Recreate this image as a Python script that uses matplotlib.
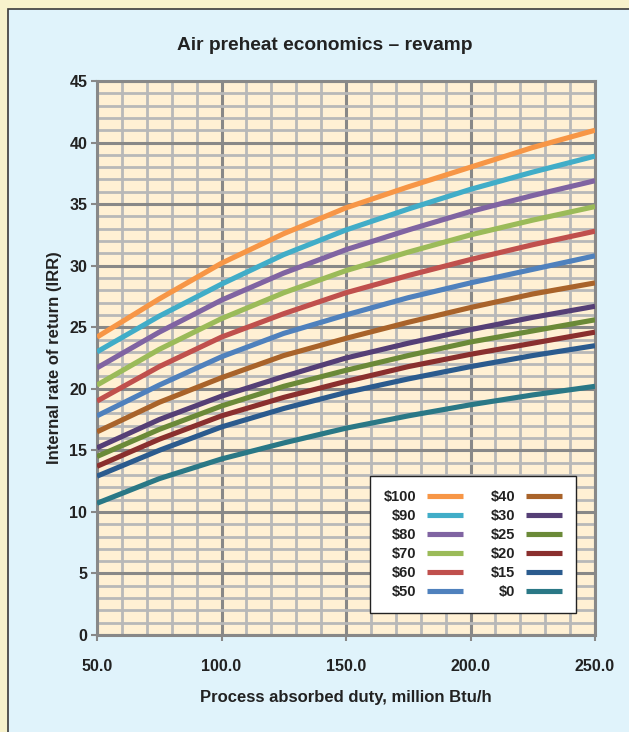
import matplotlib.pyplot as plt
from matplotlib.patches import Rectangle
from matplotlib.ticker import MultipleLocator, FormatStrFormatter

plt.rcParams['font.family'] = ['Liberation Sans Narrow', 'Liberation Sans', 'DejaVu Sans']
plt.rcParams['font.weight'] = 'bold'

# duty, million Btu/h
duty = [50, 75, 100, 125, 150, 175, 200, 225, 250]

# IRR, one list per price case
irr_100 = [24.2, 27.3, 30.2, 32.6, 34.7, 36.4, 38.0, 39.6, 41.0]
irr_90 = [23.0, 25.9, 28.5, 30.9, 32.9, 34.6, 36.2, 37.6, 38.9]
irr_80 = [21.7, 24.6, 27.2, 29.4, 31.3, 32.9, 34.4, 35.7, 36.9]
irr_70 = [20.3, 23.2, 25.7, 27.8, 29.6, 31.1, 32.5, 33.7, 34.8]
irr_60 = [19.0, 21.8, 24.2, 26.1, 27.8, 29.2, 30.5, 31.7, 32.8]
irr_50 = [17.8, 20.3, 22.6, 24.5, 26.0, 27.4, 28.6, 29.7, 30.8]
irr_40 = [16.5, 18.9, 20.9, 22.7, 24.1, 25.4, 26.6, 27.7, 28.6]
irr_30 = [15.2, 17.5, 19.4, 21.0, 22.5, 23.7, 24.8, 25.8, 26.7]
irr_25 = [14.5, 16.7, 18.6, 20.2, 21.5, 22.7, 23.8, 24.7, 25.6]
irr_20 = [13.7, 15.9, 17.8, 19.3, 20.6, 21.8, 22.8, 23.7, 24.6]
irr_15 = [12.9, 15.0, 16.9, 18.4, 19.7, 20.8, 21.8, 22.7, 23.5]
irr_0 = [10.7, 12.7, 14.3, 15.6, 16.8, 17.8, 18.7, 19.5, 20.2]

labels = ['$100', '$90', '$80', '$70', '$60', '$50',
          '$40', '$30', '$25', '$20', '$15', '$0']
series = [irr_100, irr_90, irr_80, irr_70, irr_60, irr_50,
          irr_40, irr_30, irr_25, irr_20, irr_15, irr_0]
colors = ['#f79646', '#41adc8', '#8064a2', '#9bbb59', '#c0504d', '#4f81bd',
          '#a9632a', '#553f76', '#6b8a38', '#8a2f2e', '#2b5b8e', '#2a7886']

W, H = 629, 732
fig = plt.figure(figsize=(W / 100, H / 100), dpi=100, facecolor='#f7f2cc')
fig.patches.append(Rectangle((8 / W, -0.01), 1.0, 1 - 9 / H + 0.01,
                             transform=fig.transFigure, facecolor='#e0f3fb',
                             edgecolor='#3a3a3a', linewidth=1.2, zorder=-10))

ax = fig.add_axes([97 / W, 1 - 635 / H, (595 - 97) / W, (635 - 81) / H])
ax.set_zorder(2)
ax.set_facecolor('#fff0d4')

for y, lab, c in zip(series, labels, colors):
    ax.plot(duty, y, color=c, lw=3.7, label=lab, solid_capstyle='butt', zorder=3)

ax.set_xlim(50, 250)
ax.set_ylim(0, 45)
ax.xaxis.set_major_locator(MultipleLocator(50))
ax.xaxis.set_minor_locator(MultipleLocator(10))
ax.yaxis.set_major_locator(MultipleLocator(5))
ax.yaxis.set_minor_locator(MultipleLocator(1))
ax.xaxis.set_major_formatter(FormatStrFormatter('%.1f'))

ax.grid(which='minor', color='#b8b8b8', lw=2.0, zorder=1)
ax.grid(which='major', color='#888888', lw=2.2, zorder=1)
ax.set_axisbelow(True)
for s in ax.spines.values():
    s.set_color('#888888')
    s.set_linewidth(2.2)

ax.tick_params(which='minor', length=0)
ax.tick_params(which='major', length=4, width=1.5, color='#888888',
               labelsize=11.5, labelcolor='#222222', pad=3)
ax.tick_params(axis='x', pad=13)

ax.set_xlabel('Process absorbed duty, million Btu/h', fontsize=12,
              fontweight='bold', color='#222222', labelpad=12)
ax.set_ylabel('Internal rate of return (IRR)', fontsize=12,
              fontweight='bold', color='#222222', labelpad=5)
fig.text(325 / W, 1 - 45 / H, 'Air preheat economics \u2013 revamp',
         ha='center', va='center', fontsize=13.8, fontweight='bold', color='#222222')

leg = ax.legend(ncol=2, markerfirst=False, loc='upper left',
                bbox_to_anchor=(370 / W, 1 - 476 / H), bbox_transform=fig.transFigure,
                borderaxespad=0, fontsize=10.5, handlelength=2.45, handletextpad=0.75,
                columnspacing=1.9, labelspacing=0.34, borderpad=0.95,
                fancybox=False, framealpha=1, edgecolor='#222222')
leg.get_frame().set_linewidth(1.0)
for t in leg.get_texts():
    t.set_color('#222222')

fig.savefig('out.png', dpi=100, facecolor=fig.get_facecolor())
